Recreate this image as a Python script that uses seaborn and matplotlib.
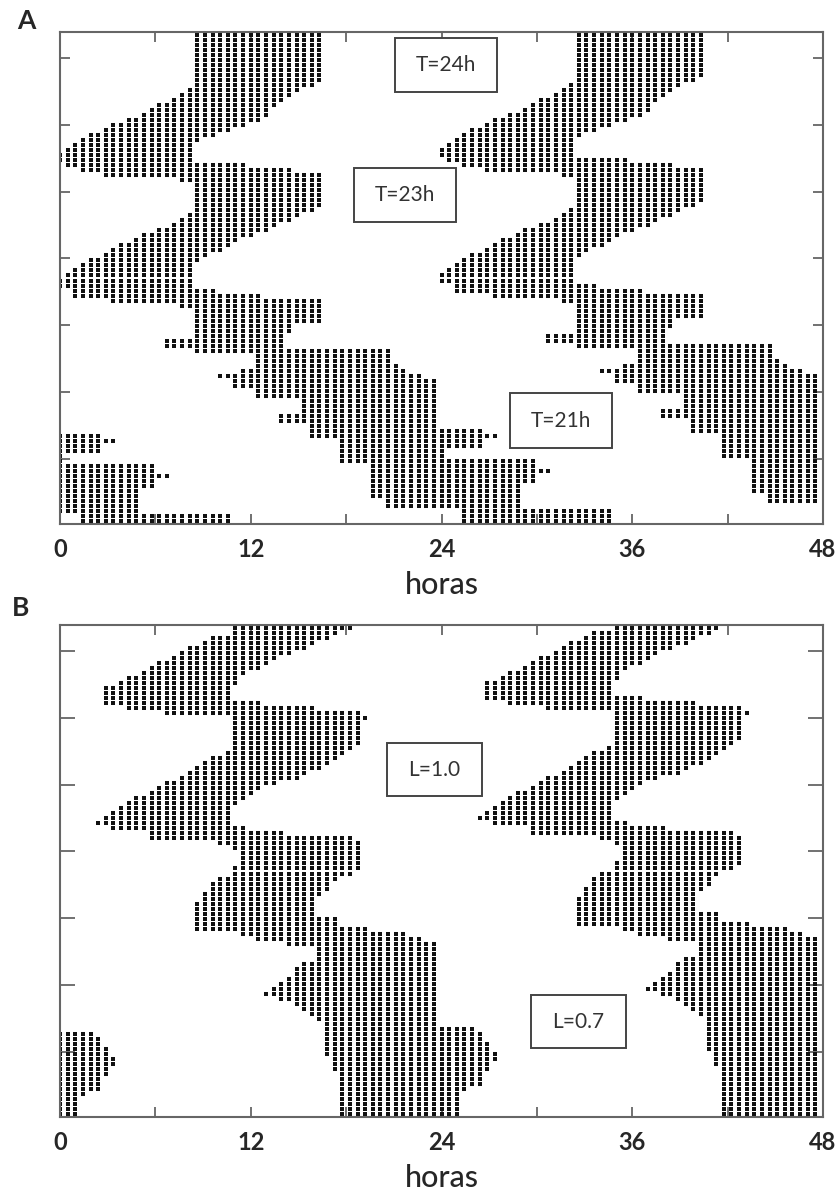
import numpy as np
import pandas as pd
import matplotlib
matplotlib.use("Agg")
import matplotlib.pyplot as plt
from matplotlib.patches import Rectangle
import seaborn as sns

sns.set_theme(style="white")
plt.rcParams["font.family"] = ["Lato", "DejaVu Sans"]

# ---- time grid -------------------------------------------------------------
BIN_H = 0.48           # width of one activity bin (hours)
BINS_PER_DAY = 50
N_ROWS = 98            # days shown per actogram

HOUR_TICKS = [0, 6, 12, 18, 24, 30, 36, 42, 48]
HOUR_LABELS = ["0", "", "12", "", "24", "", "36", "", "48"]
ROW_TICKS = [5.2, 18.5, 31.8, 45.1, 58.4, 71.7, 85.0]
X_LABEL = "horas"

# ---- panel A: activity onset / offset per day (h); values > 24 fall in the next day
A_ON = [8.7, 8.7, 8.7, 8.7, 8.7, 8.7, 8.7, 8.7, 8.7, 8.7,
        8.7, 8.2, 7.7, 7.2, 6.2, 5.8, 5.2, 4.3, 3.3, 2.9,
        1.9, 1.4, 0.9, 0.5, 0.0, 0.0, 0.5, 1.4, 2.9, 7.7,
        8.7, 8.7, 8.7, 8.7, 8.7, 8.7, 8.2, 7.7, 7.2, 6.2,
        5.5, 4.8, 4.0, 3.3, 2.9, 1.9, 1.4, 0.9, 0.5, 0.0,
        0.0, 0.9, 0.9, 3.3, 7.7, 8.7, 8.7, 8.7, 8.7, 8.7,
        8.7, 6.7, 6.7, 8.7, 12.6, 12.6, 12.6, 11.3, 10.0, 10.9,
        10.9, 12.5, 12.5, 15.5, 15.5, 15.5, 13.8, 13.8, 15.7, 15.7,
        15.7, 17.6, 17.6, 17.6, 17.6, 17.6, 19.9, 19.9, 19.9, 19.7,
        19.7, 19.7, 19.7, 20.7, 20.7, 25.4, 25.4, 25.4, 25.4]
A_OFF = [16.5, 16.5, 16.5, 16.5, 16.5, 16.5, 16.5, 16.5, 16.5, 16.3,
         15.9, 14.9, 14.5, 14.0, 13.5, 13.0, 12.8, 12.5, 11.5, 10.5,
         9.6, 8.7, 8.2, 8.2, 8.2, 8.2, 11.5, 14.4, 16.5, 16.5,
         16.5, 16.5, 16.5, 16.5, 16.5, 15.9, 14.9, 14.2, 13.6, 12.9,
         12.2, 11.1, 10.5, 10.0, 9.3, 8.7, 8.2, 8.2, 8.2, 8.2,
         8.2, 9.6, 12.6, 16.5, 16.5, 16.5, 16.5, 16.5, 14.5, 14.5,
         14.0, 14.0, 14.0, 20.8, 20.8, 20.8, 21.0, 21.5, 22.6, 23.6,
         23.6, 23.6, 23.6, 23.6, 23.6, 23.6, 23.6, 23.6, 23.6, 26.5,
         27.5, 26.5, 26.5, 24.0, 24.0, 29.7, 29.7, 30.7, 29.7, 29.7,
         28.8, 28.8, 28.8, 28.8, 28.8, 34.8, 34.8, 34.8, 34.8]
A_TAGS = ["T=24h", "T=23h", "T=21h"]
A_TAG_HOUR = [24.3, 21.7, 31.5]
A_TAG_ROW = [6.6, 32.5, 77.4]

# ---- panel B ----------------------------------------------------------------
B_ON = [10.9, 10.9, 9.6, 9.1, 8.2, 7.7, 7.2, 6.25, 5.8, 5.2,
        4.3, 3.8, 2.9, 2.9, 2.9, 2.9, 4.3, 6.7, 10.9, 11.1,
        11.1, 11.1, 11.1, 11.1, 10.9, 10.5, 9.6, 9.1, 8.7, 8.2,
        7.7, 6.8, 6.1, 5.6, 4.8, 4.2, 3.9, 3.35, 2.9, 2.4,
        3.35, 5.9, 5.9, 10.1, 10.9, 11.3, 11.3, 11.3, 11.1, 10.9,
        10.2, 9.8, 9.6, 9.3, 9.1, 8.7, 8.6, 8.6, 8.6, 8.6,
        8.6, 11.3, 12.6, 14.3, 16.2, 16.2, 16.2, 15.5, 15.1, 14.7,
        14.3, 13.8, 13.2, 12.9, 14.0, 15.0, 15.5, 16.0, 16.5, 17.0,
        17.0, 17.0, 17.0, 17.0, 17.0, 17.0, 17.3, 17.3, 17.3, 17.6,
        17.6, 17.6, 17.6, 17.8, 17.8, 17.8, 17.8, 17.8, 17.8]
B_OFF = [18.0, 17.4, 16.9, 15.9, 15.5, 14.5, 13.5, 13.0, 12.6, 11.7,
         11.1, 10.9, 10.7, 10.7, 10.7, 12.6, 15.9, 18.9, 19.3, 18.9,
         18.9, 18.9, 18.9, 18.7, 18.45, 17.6, 17.2, 16.8, 16.2, 15.5,
         14.7, 13.5, 12.6, 11.8, 11.3, 10.9, 10.7, 10.7, 10.7, 10.7,
         11.7, 14.05, 18.0, 18.9, 18.9, 18.9, 18.9, 18.9, 18.9, 18.4,
         17.4, 17.0, 16.6, 16.2, 15.9, 15.9, 15.9, 15.9, 17.2, 17.2,
         19.3, 21.4, 22.6, 23.6, 23.6, 23.6, 23.6, 23.6, 23.6, 23.6,
         23.6, 23.6, 23.6, 23.6, 23.6, 23.6, 23.6, 23.6, 23.6, 23.6,
         26.0, 26.4, 26.4, 26.8, 26.8, 27.2, 27.2, 26.8, 26.8, 26.4,
         26.4, 26.4, 25.6, 25.2, 25.2, 25.2, 25.0, 25.0, 25.0]
B_TAGS = ["L=1.0", "L=0.7"]
B_TAG_HOUR = [23.55, 32.6]
B_TAG_ROW = [28.8, 79.0]


def double_plot(on, off):
    """Active bins of each row: day r on the left half, day r+1 on the right."""
    active = set()
    for d, (s, e) in enumerate(zip(on, off)):
        for k in range(int(round(s / BIN_H)), int(round(e / BIN_H)) + 1):
            active.add(d * BINS_PER_DAY + k)
    hours, rows = [], []
    for r in range(N_ROWS):
        for half in (0, 1):
            base = (r + half) * BINS_PER_DAY
            for k in range(BINS_PER_DAY):
                if base + k in active:
                    hours.append(24 * half + k * BIN_H)
                    rows.append(r + 0.5)
    return pd.DataFrame({"hour": hours, "row": rows})


def draw_panel(ax, on, off, tags, tag_hour, tag_row, dot_size, box_w, box_h,
               ytick_len):
    df = double_plot(on, off)
    sns.scatterplot(data=df, x="hour", y="row", marker="s", s=dot_size,
                    color="#111111", linewidth=0, ax=ax, legend=False)
    ax.set_xlim(0, 48)
    ax.set_ylim(N_ROWS, 0)
    ax.set_xticks(HOUR_TICKS)
    ax.set_xticklabels(HOUR_LABELS, fontsize=17, fontweight="bold")
    ax.set_yticks(ROW_TICKS)
    ax.set_yticklabels([])
    ax.tick_params(axis="x", direction="in", length=7, width=1.3,
                   color="#666666", top=True, bottom=True, pad=10)
    ax.tick_params(axis="y", direction="in", length=ytick_len, width=1.3,
                   color="#666666", left=True, right=True)
    ax.set_xlabel(X_LABEL, fontsize=22, fontweight="medium", labelpad=7)
    ax.set_ylabel("")
    for sp in ax.spines.values():
        sp.set_color("#666666")
        sp.set_linewidth(1.5)
    for t, h, r in zip(tags, tag_hour, tag_row):
        ax.add_patch(Rectangle((h - box_w / 2, r - box_h / 2), box_w, box_h,
                               facecolor="white", edgecolor="#444444",
                               linewidth=1.4, zorder=5))
        ax.text(h, r, t, ha="center", va="center", fontsize=15,
                color="#333333", zorder=6)


fig = plt.figure(figsize=(8.35, 12), dpi=100)
axA = fig.add_axes([60 / 835, 1 - 524 / 1200, 763 / 835, 492 / 1200])
axB = fig.add_axes([60 / 835, 1 - 1117 / 1200, 763 / 835, 492 / 1200])

draw_panel(axA, A_ON, A_OFF, A_TAGS, A_TAG_HOUR, A_TAG_ROW, 9.0, 6.4, 10.8, 7)
draw_panel(axB, B_ON, B_OFF, B_TAGS, B_TAG_HOUR, B_TAG_ROW, 5.2, 6.0, 10.6, 11)

fig.text(26 / 835, 1 - 21 / 1200, "A", fontsize=19, fontweight="bold",
         ha="center", va="center")
fig.text(21 / 835, 1 - 608 / 1200, "B", fontsize=19, fontweight="bold",
         ha="center", va="center")

fig.savefig("out.png", dpi=100, facecolor="white")
